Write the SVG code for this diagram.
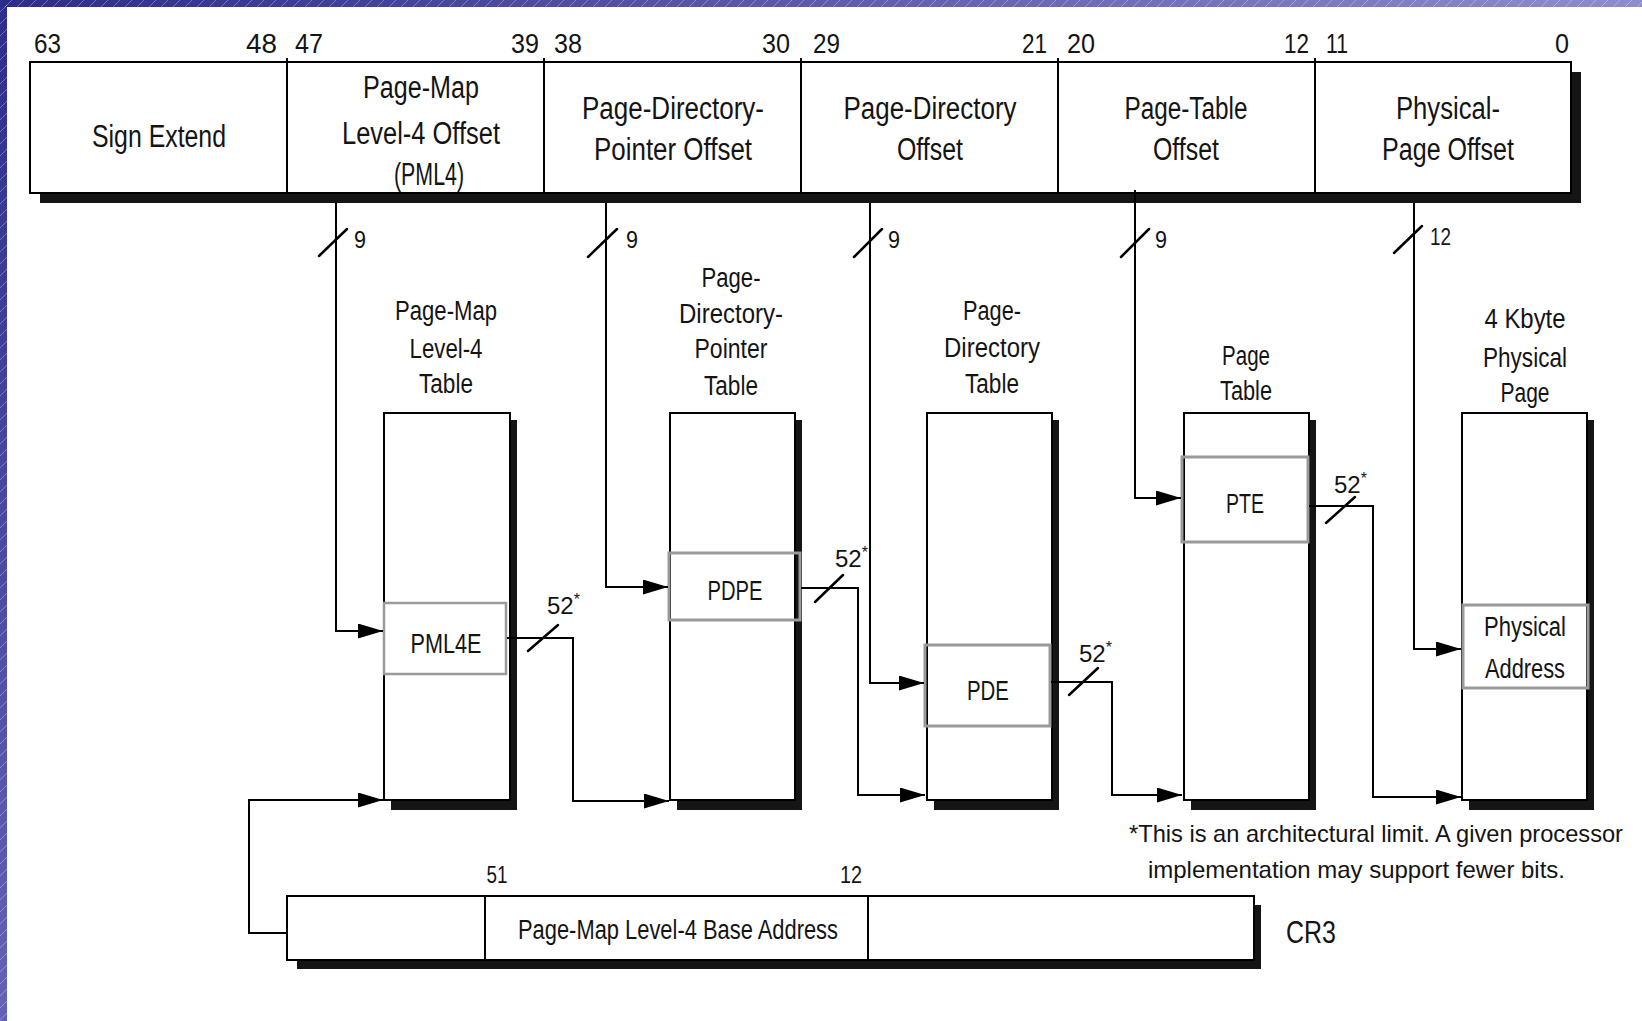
<svg xmlns="http://www.w3.org/2000/svg" width="1642" height="1021" viewBox="0 0 1642 1021">
<style>
.t{font-family:"Liberation Sans",Arial,sans-serif;fill:#141414}
.bit{font-size:27px}
.fld{font-size:31px;text-anchor:middle}
.lbl{font-size:27px;text-anchor:middle}
.sm{font-size:24px}
.reg{fill:#fff;stroke:#000;stroke-width:2}
.sh{fill:#151515}
.ent{fill:none;stroke:#9a9a9a;stroke-width:3}
.div{stroke:#000;stroke-width:2}
.wire{fill:none;stroke:#000;stroke-width:2}
.sl{stroke:#000;stroke-width:2.5;stroke-linecap:round}
</style>
<defs>
<linearGradient id="gTop" x1="0" y1="0" x2="1" y2="0"><stop offset="0" stop-color="#2c2c8c"/><stop offset="1" stop-color="#8e8ccb"/></linearGradient>
<linearGradient id="gLeft" x1="0" y1="0" x2="0" y2="1"><stop offset="0" stop-color="#2c2c8c"/><stop offset="1" stop-color="#6462b6"/></linearGradient>
<pattern id="hatch" patternUnits="userSpaceOnUse" width="12" height="12"><path d="M0,12 L12,0" stroke="#ffffff" stroke-opacity="0.3" stroke-width="1"/></pattern>
<marker id="arr" markerUnits="userSpaceOnUse" markerWidth="25" markerHeight="15" refX="25" refY="7.5" orient="auto"><path d="M0,0 L25,7.5 L0,15 Z" fill="#000"/></marker>
</defs>
<rect width="1642" height="1021" fill="#fff"/>
<g id="frame">
<rect x="0" y="0" width="1642" height="7" fill="url(#gTop)"/>
<rect x="0" y="0" width="7" height="1021" fill="url(#gLeft)"/>
<rect x="0" y="0" width="1642" height="7" fill="url(#hatch)"/>
<rect x="0" y="0" width="7" height="1021" fill="url(#hatch)"/>
</g>

<g id="virtual-address">
<rect class="sh" x="40" y="72" width="1541" height="131"/>
<rect class="reg" x="30" y="62" width="1541" height="131"/>
<line class="div" x1="287" y1="58" x2="287" y2="193"/>
<line class="div" x1="544" y1="58" x2="544" y2="193"/>
<line class="div" x1="801" y1="58" x2="801" y2="193"/>
<line class="div" x1="1058" y1="58" x2="1058" y2="193"/>
<line class="div" x1="1315" y1="58" x2="1315" y2="193"/>
<text class="t bit" x="34" y="53" textLength="27" lengthAdjust="spacingAndGlyphs">63</text>
<text class="t bit" x="277" y="53" text-anchor="end" textLength="31" lengthAdjust="spacingAndGlyphs">48</text>
<text class="t bit" x="295" y="53" textLength="28" lengthAdjust="spacingAndGlyphs">47</text>
<text class="t bit" x="539" y="53" text-anchor="end" textLength="28" lengthAdjust="spacingAndGlyphs">39</text>
<text class="t bit" x="554" y="53" textLength="28" lengthAdjust="spacingAndGlyphs">38</text>
<text class="t bit" x="790" y="53" text-anchor="end" textLength="28" lengthAdjust="spacingAndGlyphs">30</text>
<text class="t bit" x="813" y="53" textLength="27" lengthAdjust="spacingAndGlyphs">29</text>
<text class="t bit" x="1047" y="53" text-anchor="end" textLength="25" lengthAdjust="spacingAndGlyphs">21</text>
<text class="t bit" x="1067" y="53" textLength="28" lengthAdjust="spacingAndGlyphs">20</text>
<text class="t bit" x="1309" y="53" text-anchor="end" textLength="25" lengthAdjust="spacingAndGlyphs">12</text>
<text class="t bit" x="1326" y="53" textLength="22" lengthAdjust="spacingAndGlyphs">11</text>
<text class="t bit" x="1569" y="53" text-anchor="end" textLength="14" lengthAdjust="spacingAndGlyphs">0</text>
<text class="t fld" x="159" y="147" textLength="134" lengthAdjust="spacingAndGlyphs">Sign Extend</text>
<text class="t fld" x="421" y="98" textLength="116" lengthAdjust="spacingAndGlyphs">Page-Map</text>
<text class="t fld" x="421" y="144" textLength="158" lengthAdjust="spacingAndGlyphs">Level-4 Offset</text>
<text class="t fld" x="429" y="185" textLength="70" lengthAdjust="spacingAndGlyphs">(PML4)</text>
<text class="t fld" x="673" y="119" textLength="182" lengthAdjust="spacingAndGlyphs">Page-Directory-</text>
<text class="t fld" x="673" y="160" textLength="158" lengthAdjust="spacingAndGlyphs">Pointer Offset</text>
<text class="t fld" x="930" y="119" textLength="173" lengthAdjust="spacingAndGlyphs">Page-Directory</text>
<text class="t fld" x="930" y="160" textLength="66" lengthAdjust="spacingAndGlyphs">Offset</text>
<text class="t fld" x="1186" y="119" textLength="123" lengthAdjust="spacingAndGlyphs">Page-Table</text>
<text class="t fld" x="1186" y="160" textLength="66" lengthAdjust="spacingAndGlyphs">Offset</text>
<text class="t fld" x="1448" y="119" textLength="104" lengthAdjust="spacingAndGlyphs">Physical-</text>
<text class="t fld" x="1448" y="160" textLength="132" lengthAdjust="spacingAndGlyphs">Page Offset</text>
</g>

<g id="pml4-table">
<text class="t lbl" x="446" y="320" textLength="102" lengthAdjust="spacingAndGlyphs">Page-Map</text>
<text class="t lbl" x="446" y="358" textLength="73" lengthAdjust="spacingAndGlyphs">Level-4</text>
<text class="t lbl" x="446" y="393" textLength="54" lengthAdjust="spacingAndGlyphs">Table</text>
<rect class="sh" x="391" y="420" width="126" height="390"/>
<rect class="reg" x="384" y="413" width="126" height="387"/>
<rect class="ent" x="384" y="603" width="122" height="71" style="stroke-width:2.5"/>
<text class="t lbl" x="446" y="653" textLength="71" lengthAdjust="spacingAndGlyphs">PML4E</text>
</g>

<g id="pdp-table">
<text class="t lbl" x="731" y="287" textLength="59" lengthAdjust="spacingAndGlyphs">Page-</text>
<text class="t lbl" x="731" y="323" textLength="104" lengthAdjust="spacingAndGlyphs">Directory-</text>
<text class="t lbl" x="731" y="358" textLength="73" lengthAdjust="spacingAndGlyphs">Pointer</text>
<text class="t lbl" x="731" y="395" textLength="54" lengthAdjust="spacingAndGlyphs">Table</text>
<rect class="sh" x="677" y="420" width="125" height="390"/>
<rect class="reg" x="670" y="413" width="125" height="387"/>
<rect class="ent" x="669" y="553" width="131" height="67"/>
<text class="t lbl" x="735" y="600" textLength="55" lengthAdjust="spacingAndGlyphs">PDPE</text>
</g>

<g id="pd-table">
<text class="t lbl" x="992" y="320" textLength="58" lengthAdjust="spacingAndGlyphs">Page-</text>
<text class="t lbl" x="992" y="357" textLength="96" lengthAdjust="spacingAndGlyphs">Directory</text>
<text class="t lbl" x="992" y="393" textLength="54" lengthAdjust="spacingAndGlyphs">Table</text>
<rect class="sh" x="934" y="420" width="125" height="390"/>
<rect class="reg" x="927" y="413" width="125" height="387"/>
<rect class="ent" x="925" y="645" width="125" height="81"/>
<text class="t lbl" x="988" y="700" textLength="42" lengthAdjust="spacingAndGlyphs">PDE</text>
</g>

<g id="page-table">
<text class="t lbl" x="1246" y="365" textLength="48" lengthAdjust="spacingAndGlyphs">Page</text>
<text class="t lbl" x="1246" y="400" textLength="52" lengthAdjust="spacingAndGlyphs">Table</text>
<rect class="sh" x="1191" y="420" width="125" height="390"/>
<rect class="reg" x="1184" y="413" width="125" height="387"/>
<rect class="ent" x="1182" y="457" width="126" height="85"/>
<text class="t lbl" x="1245" y="513" textLength="38" lengthAdjust="spacingAndGlyphs">PTE</text>
</g>

<g id="physical-page">
<text class="t lbl" x="1525" y="328" textLength="81" lengthAdjust="spacingAndGlyphs">4 Kbyte</text>
<text class="t lbl" x="1525" y="367" textLength="84" lengthAdjust="spacingAndGlyphs">Physical</text>
<text class="t lbl" x="1525" y="402" textLength="49" lengthAdjust="spacingAndGlyphs">Page</text>
<rect class="sh" x="1469" y="420" width="125" height="390"/>
<rect class="reg" x="1462" y="413" width="125" height="387"/>
<rect class="ent" x="1463" y="605" width="125" height="83"/>
<text class="t lbl" x="1525" y="636" textLength="82" lengthAdjust="spacingAndGlyphs">Physical</text>
<text class="t lbl" x="1525" y="678" textLength="80" lengthAdjust="spacingAndGlyphs">Address</text>
</g>

<g id="cr3">
<rect class="sh" x="297" y="905" width="964" height="64"/>
<rect class="reg" x="287" y="896" width="967" height="64"/>
<line class="div" x1="485" y1="896" x2="485" y2="960"/>
<line class="div" x1="868" y1="896" x2="868" y2="960"/>
<text class="t sm" x="497" y="883" text-anchor="middle" textLength="21" lengthAdjust="spacingAndGlyphs">51</text>
<text class="t sm" x="851" y="883" text-anchor="middle" textLength="22" lengthAdjust="spacingAndGlyphs">12</text>
<text class="t" x="518" y="939" style="font-size:27px" textLength="320" lengthAdjust="spacingAndGlyphs">Page-Map Level-4 Base Address</text>
<text class="t" x="1286" y="943" style="font-size:32px" textLength="50" lengthAdjust="spacingAndGlyphs">CR3</text>
</g>

<g id="footnote">
<text class="t" x="1129" y="842" style="font-size:24px" textLength="494" lengthAdjust="spacingAndGlyphs">*This is an architectural limit. A given processor</text>
<text class="t" x="1148" y="878" style="font-size:24px" textLength="417" lengthAdjust="spacingAndGlyphs">implementation may support fewer bits.</text>
</g>

<g id="connectors">
<path class="wire" d="M336,203 V631 H383" marker-end="url(#arr)"/>
<path class="wire" d="M606,203 V587 H668" marker-end="url(#arr)"/>
<path class="wire" d="M870,203 V683 H924" marker-end="url(#arr)"/>
<path class="wire" d="M1135,190 V498 H1181" marker-end="url(#arr)"/>
<path class="wire" d="M1414,203 V649 H1461" marker-end="url(#arr)"/>
<path class="wire" d="M507,638 H573 V801 H669" marker-end="url(#arr)"/>
<path class="wire" d="M801,588 H858 V795 H925" marker-end="url(#arr)"/>
<path class="wire" d="M1051,682 H1112 V795 H1182" marker-end="url(#arr)"/>
<path class="wire" d="M1309,506 H1373 V797 H1461" marker-end="url(#arr)"/>
<path class="wire" d="M287,933 H249 V800 H383" marker-end="url(#arr)"/>
<line class="sl" x1="319" y1="256" x2="347" y2="229"/>
<line class="sl" x1="588" y1="257" x2="617" y2="229"/>
<line class="sl" x1="854" y1="257" x2="882" y2="229"/>
<line class="sl" x1="1121" y1="257" x2="1149" y2="229"/>
<line class="sl" x1="1394" y1="253" x2="1422" y2="226"/>
<line class="sl" x1="528" y1="651" x2="558" y2="625"/>
<line class="sl" x1="815" y1="602" x2="843" y2="575"/>
<line class="sl" x1="1069" y1="695" x2="1098" y2="668"/>
<line class="sl" x1="1326" y1="523" x2="1355" y2="497"/>
<text class="t sm" x="354" y="248" textLength="12" lengthAdjust="spacingAndGlyphs">9</text>
<text class="t sm" x="626" y="248" textLength="12" lengthAdjust="spacingAndGlyphs">9</text>
<text class="t sm" x="888" y="248" textLength="12" lengthAdjust="spacingAndGlyphs">9</text>
<text class="t sm" x="1155" y="248" textLength="12" lengthAdjust="spacingAndGlyphs">9</text>
<text class="t sm" x="1430" y="245" textLength="21" lengthAdjust="spacingAndGlyphs">12</text>
<text class="t" x="547" y="614" style="font-size:24px">52<tspan dy="-9" style="font-size:16px">*</tspan></text>
<text class="t" x="835" y="567" style="font-size:24px">52<tspan dy="-9" style="font-size:16px">*</tspan></text>
<text class="t" x="1079" y="662" style="font-size:24px">52<tspan dy="-9" style="font-size:16px">*</tspan></text>
<text class="t" x="1334" y="493" style="font-size:24px">52<tspan dy="-9" style="font-size:16px">*</tspan></text>
</g>
</svg>
